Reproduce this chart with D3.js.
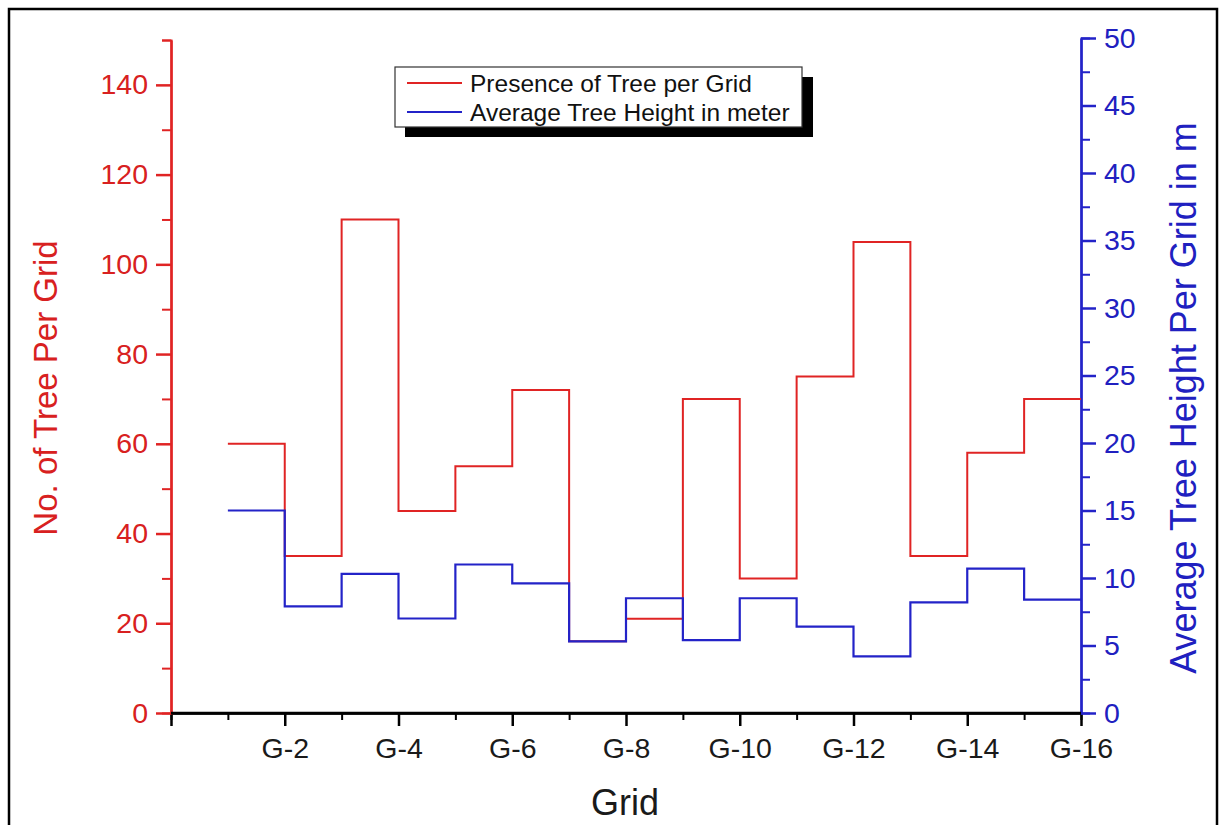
<!DOCTYPE html>
<html>
<head>
<meta charset="utf-8">
<script src="https://cdn.jsdelivr.net/npm/d3@7"></script>
<style>
  html, body { margin: 0; padding: 0; background: #fff; }
  svg { display: block; font-family: "Liberation Sans", Arial, sans-serif; }
</style>
</head>
<body>
<svg id="chart" width="1226" height="825"></svg>
<script>
// ---- data ----
const grids = ["G-1","G-2","G-3","G-4","G-5","G-6","G-7","G-8","G-9","G-10","G-11","G-12","G-13","G-14","G-15"];
const gridIndex = [1,2,3,4,5,6,7,8,9,10,11,12,13,14,15];
const treeCount = [60,35,110,45,55,72,16,21,70,30,75,105,35,58,70];
const treeHeight = [15,7.9,10.3,7,11,9.6,5.3,8.5,5.4,8.5,6.4,4.2,8.2,10.7,8.4];
const xTickLabels = ["G-2","G-4","G-6","G-8","G-10","G-12","G-14","G-16"];
const xMajorTicks = [0,2,4,6,8,10,12,14,16];
const xMinorTicks = [1,3,5,7,9,11,13,15];
const leftMajor = [0,20,40,60,80,100,120,140];
const leftMinor = [10,30,50,70,90,110,130,150];
const rightMajor = [0,5,10,15,20,25,30,35,40,45,50];
const rightMinor = [2.5,7.5,12.5,17.5,22.5,27.5,32.5,37.5,42.5,47.5];
const seriesNames = ["Presence of Tree per Grid","Average Tree Height in meter"];

const RED = "#e02424", RED_TXT = "#d82020", BLUE = "#2323c8", BLUE_TXT = "#2020c0";

const svg = d3.select("#chart");

// outer frame
svg.append("rect").attr("x",9).attr("y",9).attr("width",1208).attr("height",840)
  .attr("fill","none").attr("stroke","#000").attr("stroke-width",2.5);

const x = d3.scaleLinear().domain([0,16]).range([171,1081]);
const yL = d3.scaleLinear().domain([0,150]).range([713,40]);
const yR = d3.scaleLinear().domain([0,50]).range([713,38]);

// ---- axes ----
function styleAxis(g, color, width) {
  g.select(".domain").attr("stroke", color).attr("stroke-width", width);
  g.selectAll(".tick line").attr("stroke", color).attr("stroke-width", width);
}

// bottom axis
const gxMinor = svg.append("g").attr("transform","translate(0,713)")
  .call(d3.axisBottom(x).tickValues(xMinorTicks).tickSize(7).tickFormat(""));
styleAxis(gxMinor, "#000", 2);
const gx = svg.append("g").attr("transform","translate(0,713)")
  .call(d3.axisBottom(x).tickValues(xMajorTicks).tickSize(13).tickSizeOuter(0)
    .tickFormat(d => d === 0 ? "" : xTickLabels[d/2 - 1]));
styleAxis(gx, "#000", 2.5);
gx.selectAll(".tick text").attr("font-size", 28.5).attr("fill","#1a1a1a").attr("dy","1.0em")
  .attr("font-family","Liberation Sans, Arial, sans-serif");

// left axis
const gyLMinor = svg.append("g").attr("transform","translate(171,0)")
  .call(d3.axisLeft(yL).tickValues(leftMinor).tickSize(9).tickFormat(""));
styleAxis(gyLMinor, RED, 2);
const gyL = svg.append("g").attr("transform","translate(171,0)")
  .call(d3.axisLeft(yL).tickValues(leftMajor).tickSize(15).tickSizeOuter(0).tickFormat(d3.format("d")));
styleAxis(gyL, RED, 2.5);
gyL.selectAll(".tick text").attr("font-size", 28.5).attr("fill", RED_TXT).attr("x", -23)
  .attr("font-family","Liberation Sans, Arial, sans-serif");

// right axis
const gyRMinor = svg.append("g").attr("transform","translate(1081,0)")
  .call(d3.axisRight(yR).tickValues(rightMinor).tickSize(9).tickFormat(""));
styleAxis(gyRMinor, BLUE, 2);
const gyR = svg.append("g").attr("transform","translate(1081,0)")
  .call(d3.axisRight(yR).tickValues(rightMajor).tickSize(15).tickSizeOuter(0).tickFormat(d3.format("d")));
styleAxis(gyR, BLUE, 2.5);
gyR.selectAll(".tick text").attr("font-size", 28.5).attr("fill", BLUE_TXT).attr("x", 23)
  .attr("font-family","Liberation Sans, Arial, sans-serif");

// bottom axis line on top near the corners
svg.append("line").attr("x1",x(0)).attr("x2",x(16)).attr("y1",713).attr("y2",713)
  .attr("stroke","#000").attr("stroke-width",2.5);

// ---- series ----
function stepPoints(vals) {
  const pts = gridIndex.map((g,i) => [g, vals[i]]);
  pts.push([gridIndex[gridIndex.length-1] + 1, vals[vals.length-1]]);
  return pts;
}
const lineL = d3.line().x(d => x(d[0])).y(d => yL(d[1])).curve(d3.curveStepAfter);
const lineR = d3.line().x(d => x(d[0])).y(d => yR(d[1])).curve(d3.curveStepAfter);

svg.append("path").datum(stepPoints(treeCount)).attr("d", lineL)
  .attr("fill","none").attr("stroke", RED).attr("stroke-width", 2);
svg.append("path").datum(stepPoints(treeHeight)).attr("d", lineR)
  .attr("fill","none").attr("stroke", BLUE).attr("stroke-width", 2.2);

// ---- axis titles ----
svg.append("text").attr("transform","translate(57,388) rotate(-90)")
  .attr("text-anchor","middle").attr("font-size", 33).attr("fill", RED_TXT)
  .text("No. of Tree Per Grid");
svg.append("text").attr("transform","translate(1196,398) rotate(-90)")
  .attr("text-anchor","middle").attr("font-size", 36).attr("fill", BLUE_TXT)
  .text("Average Tree Height Per Grid in m");
svg.append("text").attr("x", 625).attr("y", 815)
  .attr("text-anchor","middle").attr("font-size", 36).attr("fill","#1a1a1a")
  .text("Grid");

// ---- legend ----
const lg = svg.append("g");
lg.append("rect").attr("x",405).attr("y",77).attr("width",408).attr("height",60).attr("fill","#000");
lg.append("rect").attr("x",395).attr("y",67).attr("width",407).attr("height",60)
  .attr("fill","#fff").attr("stroke","#333").attr("stroke-width",1.2);
const legColors = [RED, BLUE];
seriesNames.forEach((name,i) => {
  const yy = 83 + i*29;
  lg.append("line").attr("x1",407).attr("x2",462).attr("y1",yy).attr("y2",yy)
    .attr("stroke", legColors[i]).attr("stroke-width",2);
  lg.append("text").attr("x",470).attr("y",yy).attr("dy","0.35em")
    .attr("font-size",24.5).attr("fill","#111").text(name);
});
</script>
</body>
</html>
